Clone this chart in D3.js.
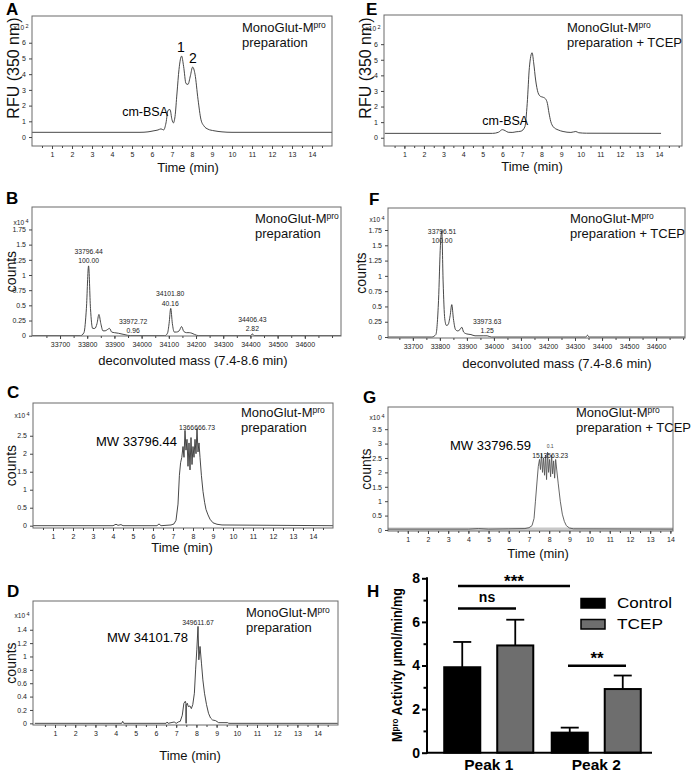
<!DOCTYPE html>
<html>
<head>
<meta charset="utf-8">
<script src="https://cdn.jsdelivr.net/npm/d3@7"></script>
<style>
  body { margin: 0; background: #fff; }
  svg { display: block; font-family: "Liberation Sans", Arial, sans-serif; }
</style>
</head>
<body>
<svg id="fig" width="693" height="772"></svg>
<script>
// ---- A: fluorescence trace, MonoGlut-Mpro preparation (x10^2 RFU)
const aTime = [0, 5.4, 5.8, 6.1, 6.3, 6.45, 6.58, 6.7, 6.8, 6.9, 7.0, 7.07, 7.15, 7.25, 7.35, 7.48, 7.58, 7.7, 7.8, 7.92, 8.03, 8.15, 8.3, 8.45, 8.6, 8.8, 9.1, 9.5, 10, 15];
const aRFU  = [0.3, 0.3, 0.33, 0.4, 0.45, 0.52, 0.45, 0.9, 1.7, 1.75, 1.1, 0.9, 1.3, 2.8, 4.3, 5.15, 4.5, 3.4, 3.35, 3.9, 4.45, 4.0, 2.4, 1.1, 0.7, 0.5, 0.4, 0.33, 0.3, 0.3];

// ---- E: fluorescence trace, + TCEP
const eTime = [0, 5.5, 5.8, 6.0, 6.15, 6.3, 6.5, 6.7, 6.95, 7.15, 7.27, 7.38, 7.52, 7.6, 7.7, 7.82, 7.95, 8.07, 8.2, 8.3, 8.38, 8.47, 8.6, 8.85, 9.1, 9.5, 9.75, 9.9, 10.3, 14.1];
const eRFU  = [0.28, 0.28, 0.35, 0.52, 0.45, 0.35, 0.34, 0.38, 0.42, 0.7, 2.2, 4.5, 5.45, 4.8, 3.7, 2.9, 2.65, 2.6, 2.5, 2.2, 1.6, 1.05, 0.7, 0.5, 0.4, 0.34, 0.4, 0.32, 0.29, 0.28];

// ---- B: deconvoluted spectrum (x10^4 counts)
const bMass   = [33597, 33775, 33788, 33797, 33805, 33812, 33820, 33828, 33836, 33843, 33850, 33858, 33866, 33874, 33882, 33890, 33900, 33915, 33935, 33960, 34085, 34095, 34101, 34107, 34113, 34120, 34128, 34138, 34147, 34155, 34165, 34175, 34185, 34195, 34210, 34398, 34403, 34407, 34411, 34416, 34733];
const bCounts = [0, 0, 0.05, 0.45, 1.15, 0.45, 0.12, 0.12, 0.2, 0.35, 0.2, 0.08, 0.08, 0.1, 0.12, 0.06, 0.05, 0.04, 0.02, 0, 0, 0.04, 0.2, 0.45, 0.2, 0.06, 0.06, 0.08, 0.15, 0.07, 0.05, 0.05, 0.04, 0.02, 0, 0, 0.01, 0.03, 0.01, 0, 0];
const bPeakMass  = [33805, 33969, 34105, 34407];
const bPeakVal   = [1.15, 0, 0.45, 0.03];
const bPeakLabel = ["33796.44", "33972.72", "34101.80", "34406.43"];
const bPeakRel   = ["100.00", "0.96", "40.16", "2.82"];

// ---- F: deconvoluted spectrum, + TCEP
const fMass   = [33608, 33770, 33785, 33795, 33802, 33807, 33812, 33818, 33824, 33830, 33838, 33844, 33850, 33858, 33866, 33874, 33881, 33888, 33900, 33915, 33930, 33960, 33975, 33990, 34340, 34346, 34352, 34707];
const fCounts = [0, 0, 0.04, 0.6, 1.5, 1.74, 0.9, 0.3, 0.19, 0.2, 0.35, 0.53, 0.3, 0.12, 0.1, 0.12, 0.16, 0.08, 0.05, 0.04, 0.02, 0.02, 0.02, 0, 0, 0.03, 0, 0];
const fPeakMass  = [33808, 33975];
const fPeakVal   = [1.74, 0.02];
const fPeakLabel = ["33796.51", "33973.63"];
const fPeakRel   = ["100.00", "1.25"];

// ---- C: extracted ion chromatogram MW 33796.44 (x10^4 counts)
const cTime = [0, 4.0, 4.15, 4.25, 4.4, 4.5, 5.5, 6.2, 6.3, 6.4, 6.9, 7.05, 7.15, 7.25, 7.32, 7.38, 7.44, 7.5, 7.55, 7.6, 7.65, 7.7, 7.75, 7.8, 7.85, 7.9, 7.95, 8.0, 8.05, 8.1, 8.15, 8.2, 8.25, 8.3, 8.35, 8.42, 8.5, 8.58, 8.65, 8.75, 8.85, 9.0, 9.2, 9.45, 15];
const cVal  = [0, 0, 0.04, 0.01, 0.03, 0, 0, 0, 0.05, 0, 0.02, 0.05, 0.15, 0.6, 1.4, 1.75, 1.9, 2.2, 1.9, 2.65, 2.1, 2.4, 1.65, 2.3, 1.55, 2.45, 1.7, 2.2, 1.9, 2.4, 2.0, 2.7, 2.05, 2.3, 1.9, 1.4, 0.95, 0.65, 0.45, 0.3, 0.18, 0.08, 0.04, 0.02, 0];

// ---- D: extracted ion chromatogram MW 34101.78
const dTime = [0, 4.3, 4.35, 4.4, 6.5, 6.55, 6.6, 6.9, 7.0, 7.1, 7.2, 7.3, 7.38, 7.45, 7.48, 7.49, 7.5, 7.55, 7.6, 7.68, 7.75, 7.82, 7.9, 7.96, 8.02, 8.08, 8.12, 8.18, 8.25, 8.32, 8.4, 8.5, 8.6, 8.7, 8.8, 8.95, 9.1, 9.55, 9.6, 15];
const dVal  = [0, 0, 0.03, 0, 0, 0.02, 0, 0.02, 0, 0.02, 0.03, 0.12, 0.3, 0.33, 0.3, 0, 0.27, 0.3, 0.25, 0.26, 0.22, 0.28, 0.45, 0.8, 1.1, 1.45, 0.95, 1.15, 0.9, 0.65, 0.45, 0.28, 0.15, 0.08, 0.05, 0.04, 0.01, 0.01, 0, 0];

// ---- G: extracted ion chromatogram MW 33796.59, + TCEP
const gTime = [0, 4, 4.5, 5, 6, 6.8, 7.0, 7.15, 7.25, 7.32, 7.4, 7.46, 7.52, 7.57, 7.62, 7.67, 7.72, 7.77, 7.82, 7.87, 7.92, 7.97, 8.02, 8.07, 8.12, 8.17, 8.22, 8.27, 8.32, 8.38, 8.45, 8.55, 8.65, 8.75, 8.85, 9.0, 9.2, 14.13];
const gVal  = [0.03, 0.03, 0.05, 0.03, 0.04, 0.05, 0.08, 0.15, 0.4, 1.0, 1.7, 2.2, 2.45, 2.1, 2.65, 2.0, 2.5, 1.9, 2.6, 1.75, 2.7, 2.0, 2.45, 1.85, 2.6, 1.95, 2.4, 1.8, 2.45, 2.05, 1.6, 1.0, 0.55, 0.3, 0.15, 0.07, 0.04, 0.03];

// ---- H: Mpro activity bars (µmol/min/mg)
const hPeaks = ["Peak 1", "Peak 2"];
const hSeries = ["Control", "TCEP"];
const hControlMean = [3.92, 0.92];
const hControlSD   = [1.16, 0.23];
const hTcepMean    = [4.92, 2.92];
const hTcepSD      = [1.18, 0.62];
const hTicks = [0, 2, 4, 6, 8];

const timeTicks = d3.range(1, 15);
const massTicks = d3.range(33700, 34700, 100);

const svg = d3.select('#fig');
const zip = (a, b) => a.map((v, i) => [v, b[i]]);

// frame + axes for one chromatogram / spectrum panel
function tracePanel(o) {
  const x = d3.scaleLinear().domain(o.xDomain).range([o.l, o.r]);
  const y = d3.scaleLinear().domain(o.yDomain).range([o.b, o.t]);
  const g = svg.append('g');

  const clipId = 'clip' + o.id;
  svg.append('clipPath').attr('id', clipId)
    .append('rect').attr('x', o.l).attr('y', o.t).attr('width', o.r - o.l).attr('height', o.b - o.t);

  if (o.band) {
    g.append('line').attr('x1', o.l).attr('x2', o.r).attr('y1', y(0) - 1).attr('y2', y(0) - 1)
      .attr('stroke', '#c8c8c8').attr('stroke-width', 3);
  }

  g.append('path')
    .attr('clip-path', `url(#${clipId})`)
    .attr('d', d3.line().x(d => x(d[0])).y(d => y(d[1])).curve(o.curve)(o.data))
    .attr('fill', 'none').attr('stroke', o.stroke || '#333').attr('stroke-width', 0.9);

  g.append('rect').attr('x', o.l).attr('y', o.t).attr('width', o.r - o.l).attr('height', o.b - o.t)
    .attr('fill', 'none').attr('stroke', '#6a6a6a').attr('stroke-width', 1);

  g.append('g').attr('transform', `translate(0,${o.b})`)
    .call(d3.axisBottom(x).tickValues(o.xTicks).tickSize(3).tickPadding(3).tickFormat(d3.format('d')));
  g.append('g').attr('transform', `translate(0,${o.b})`)
    .call(d3.axisBottom(x).tickValues(o.xMinor).tickSize(2).tickFormat(''));
  g.append('g').attr('transform', `translate(${o.l},0)`)
    .call(d3.axisLeft(y).tickValues(o.yTicks).tickSize(3).tickPadding(3).tickFormat(d => d));
  g.selectAll('.domain').remove();
  g.selectAll('.tick line').attr('stroke', '#444');
  g.selectAll('.tick text').attr('font-size', 7).attr('fill', '#222')
    .attr('font-family', '"Liberation Sans", Arial, sans-serif');

  // multiplier label at top of y axis
  g.append('text').attr('x', o.l - 8).attr('y', y(o.expAt) + 2.5)
    .attr('text-anchor', 'end').attr('font-size', 6.5).attr('fill', '#222').text('x10');
  g.append('text').attr('x', o.l - 6.5).attr('y', y(o.expAt) + 0.5)
    .attr('font-size', 5.5).attr('fill', '#222').text(o.exp);

  // axis titles
  const yMid = o.yLabelY || (o.t + o.b) / 2;
  g.append('text').attr('transform', `translate(${o.yLabelX},${yMid}) rotate(-90)`)
    .attr('text-anchor', 'middle').attr('font-size', o.yLabelSize).attr('fill', '#111').text(o.yLabel);
  g.append('text').attr('x', o.xLabelX).attr('y', o.xLabelY)
    .attr('text-anchor', 'middle').attr('font-size', 13).attr('fill', '#111').text(o.xLabel);

  // panel letter
  g.append('text').attr('x', o.letterX).attr('y', o.letterY)
    .attr('font-size', 17).attr('font-weight', 'bold').attr('fill', '#000').text(o.letter);

  // sample description
  const t1 = g.append('text').attr('x', o.descX).attr('y', o.descY)
    .attr('font-size', 13).attr('fill', '#111');
  t1.append('tspan').text('MonoGlut-M');
  t1.append('tspan').attr('font-size', 8.5).attr('dy', -4).text('pro');
  g.append('text').attr('x', o.descX).attr('y', o.descY + 15)
    .attr('font-size', 13).attr('fill', '#111').text(o.desc2);

  return { x, y, g };
}

// ---------- A
const A = tracePanel({
  id: 'A', l: 32, t: 16, r: 332, b: 146, xDomain: [0, 15], yDomain: [-0.57, 7.7],
  data: zip(aTime, aRFU), curve: d3.curveMonotoneX,
  xTicks: timeTicks, xMinor: d3.range(0.5, 15, 0.5), yTicks: d3.range(0, 7), expAt: 7, exp: '2',
  yLabel: 'RFU (350 nm)', yLabelX: 19, yLabelY: 68, yLabelSize: 16,
  xLabel: 'Time (min)', xLabelX: 188, xLabelY: 172,
  letter: 'A', letterX: 6, letterY: 15, descX: 242, descY: 32, desc2: 'preparation'
});
A.g.append('text').attr('x', A.x(7.45)).attr('y', A.y(5.15) - 4).attr('text-anchor', 'middle')
  .attr('font-size', 14).text('1');
A.g.append('text').attr('x', A.x(8.05)).attr('y', A.y(4.45) - 4).attr('text-anchor', 'middle')
  .attr('font-size', 14).text('2');
A.g.append('text').attr('x', A.x(6.8)).attr('y', A.y(1.8) + 7).attr('text-anchor', 'end')
  .attr('font-size', 12.5).text('cm-BSA');

// ---------- E
const E = tracePanel({
  id: 'E', l: 384, t: 15, r: 682, b: 146, xDomain: [-0.04, 15.17], yDomain: [-0.53, 7.87],
  data: zip(eTime, eRFU), curve: d3.curveMonotoneX,
  xTicks: timeTicks, xMinor: d3.range(0.5, 15.1, 0.5), yTicks: d3.range(0, 7), expAt: 7, exp: '2',
  yLabel: 'RFU (350 nm)', yLabelX: 371, yLabelY: 68, yLabelSize: 16,
  xLabel: 'Time (min)', xLabelX: 532, xLabelY: 171,
  letter: 'E', letterX: 366, letterY: 15, descX: 567, descY: 32, desc2: 'preparation + TCEP'
});
E.g.append('text').attr('x', E.x(6.0) - 20).attr('y', E.y(0.55) - 4)
  .attr('font-size', 12.5).text('cm-BSA');

// spectrum peak annotations
function peakLabels(P, masses, vals, labels, rels, top) {
  masses.forEach((m, i) => {
    const yb = Math.max(P.y(vals[i]) - 2.5, top + 35);
    P.g.append('text').attr('x', P.x(m)).attr('y', yb).attr('text-anchor', 'middle')
      .attr('font-size', 6.8).attr('fill', '#222').text(rels[i]);
    P.g.append('text').attr('x', P.x(m)).attr('y', yb - 9.5).attr('text-anchor', 'middle')
      .attr('font-size', 6.8).attr('fill', '#222').text(labels[i]);
  });
}

// ---------- B
const B = tracePanel({
  id: 'B', l: 32, t: 207, r: 341, b: 336, xDomain: [33597, 34733], yDomain: [-0.005, 2.12],
  data: zip(bMass, bCounts), curve: d3.curveMonotoneX,
  xTicks: massTicks, xMinor: d3.range(33650, 34733, 50), yTicks: d3.range(0, 1.8, 0.25), expAt: 1.87, exp: '4',
  yLabel: 'counts', yLabelX: 16, yLabelSize: 14,
  xLabel: 'deconvoluted mass (7.4-8.6 min)', xLabelX: 193, xLabelY: 365,
  letter: 'B', letterX: 6, letterY: 204, descX: 255, descY: 223, desc2: 'preparation'
});
peakLabels(B, bPeakMass, bPeakVal, bPeakLabel, bPeakRel, 207);

// ---------- F
const F = tracePanel({
  id: 'F', l: 388, t: 208, r: 685, b: 338, xDomain: [33608, 34707], yDomain: [-0.016, 2.11],
  data: zip(fMass, fCounts), curve: d3.curveMonotoneX,
  xTicks: massTicks, xMinor: d3.range(33650, 34707, 50), yTicks: d3.range(0, 1.8, 0.25), expAt: 1.93, exp: '4',
  yLabel: 'counts', yLabelX: 366, yLabelSize: 14,
  xLabel: 'deconvoluted mass (7.4-8.6 min)', xLabelX: 557, xLabelY: 368,
  letter: 'F', letterX: 369, letterY: 205, descX: 570, descY: 223, desc2: 'preparation + TCEP'
});
peakLabels(F, fPeakMass, fPeakVal, fPeakLabel, fPeakRel, 208);

// ---------- C
const C = tracePanel({
  id: 'C', l: 33, t: 403, r: 333, b: 528, xDomain: [0, 15], yDomain: [-0.064, 3.41],
  data: zip(cTime, cVal), curve: d3.curveLinear,
  xTicks: timeTicks, xMinor: d3.range(0.5, 15, 0.5), yTicks: d3.range(0, 2.6, 0.5), expAt: 3.07, exp: '4',
  yLabel: 'counts', yLabelX: 16, yLabelSize: 14,
  xLabel: 'Time (min)', xLabelX: 182, xLabelY: 552,
  letter: 'C', letterX: 7, letterY: 398, descX: 241, descY: 417, desc2: 'preparation'
});
C.g.append('text').attr('x', C.x(8.2)).attr('y', C.y(2.7) + 1).attr('text-anchor', 'middle')
  .attr('font-size', 6.8).attr('fill', '#222').text('1366666.73');
C.g.append('text').attr('x', 96).attr('y', 446).attr('font-size', 13).text('MW 33796.44');

// ---------- D
const D = tracePanel({
  id: 'D', l: 33, t: 601, r: 338, b: 725, xDomain: [-0.09, 15.01], yDomain: [-0.025, 1.83],
  data: zip(dTime, dVal), curve: d3.curveLinear,
  xTicks: timeTicks, xMinor: d3.range(0.5, 15, 0.5), yTicks: d3.range(0, 1.5, 0.2).map(v => +v.toFixed(1)), expAt: 1.62, exp: '4',
  yLabel: 'counts', yLabelX: 16, yLabelSize: 14,
  xLabel: 'Time (min)', xLabelX: 190, xLabelY: 760,
  letter: 'D', letterX: 7, letterY: 597, descX: 246, descY: 617, desc2: 'preparation'
});
D.g.append('text').attr('x', D.x(8.08)).attr('y', D.y(1.45) - 1).attr('text-anchor', 'middle')
  .attr('font-size', 6.8).attr('fill', '#222').text('349611.67');
D.g.append('text').attr('x', 107).attr('y', 642).attr('font-size', 13).text('MW 34101.78');

// ---------- G
const G = tracePanel({
  id: 'G', l: 388, t: 407, r: 673, b: 531, xDomain: [0.02, 14.13], yDomain: [-0.035, 4.27],
  data: zip(gTime, gVal), curve: d3.curveLinear, stroke: '#555', band: true,
  xTicks: timeTicks, xMinor: d3.range(0.5, 14.1, 0.5), yTicks: d3.range(0, 3.6, 0.5), expAt: 3.9, exp: '4',
  yLabel: 'counts', yLabelX: 371, yLabelSize: 14,
  xLabel: 'Time (min)', xLabelX: 538, xLabelY: 558,
  letter: 'G', letterX: 363, letterY: 403, descX: 576, descY: 417, desc2: 'preparation + TCEP'
});
G.g.append('text').attr('x', G.x(8.05)).attr('y', G.y(2.7) - 4).attr('text-anchor', 'middle')
  .attr('font-size', 5).attr('fill', '#444').text('0.1');
G.g.append('text').attr('x', G.x(8.05)).attr('y', G.y(2.7) + 6).attr('text-anchor', 'middle')
  .attr('font-size', 6.8).attr('fill', '#222').text('1513563.23');
G.g.append('text').attr('x', 450).attr('y', 450).attr('font-size', 13).text('MW 33796.59');

// ---------- H: bar chart
const hL = 427, hR = 652, hB = 752.7, hT = 578.3;
const yH = d3.scaleLinear().domain([0, 8]).range([hB, hT]);
const xH = d3.scaleBand().domain(hPeaks).range([435, 650]);
const xS = d3.scaleBand().domain(hSeries).range([0, xH.bandwidth()]).paddingInner(0.32).paddingOuter(0.174);
const hFill = { Control: '#000', TCEP: '#6e6e6e' };
const hg = svg.append('g');

const bars = [];
hPeaks.forEach((p, i) => {
  bars.push({ peak: p, series: 'Control', mean: hControlMean[i], sd: hControlSD[i] });
  bars.push({ peak: p, series: 'TCEP', mean: hTcepMean[i], sd: hTcepSD[i] });
});

// error bars (upper only)
bars.forEach(d => {
  const cx = xH(d.peak) + xS(d.series) + xS.bandwidth() / 2;
  hg.append('line').attr('x1', cx).attr('x2', cx).attr('y1', yH(d.mean)).attr('y2', yH(d.mean + d.sd))
    .attr('stroke', '#000').attr('stroke-width', 1.8);
  hg.append('line').attr('x1', cx - 9).attr('x2', cx + 9).attr('y1', yH(d.mean + d.sd)).attr('y2', yH(d.mean + d.sd))
    .attr('stroke', '#000').attr('stroke-width', 1.8);
});
hg.selectAll('rect.bar').data(bars).enter().append('rect')
  .attr('x', d => xH(d.peak) + xS(d.series))
  .attr('y', d => yH(d.mean))
  .attr('width', xS.bandwidth())
  .attr('height', d => hB - yH(d.mean))
  .attr('fill', d => hFill[d.series]).attr('stroke', '#000').attr('stroke-width', 2);

// axes
hg.append('g').attr('transform', `translate(${hL},0)`)
  .call(d3.axisLeft(yH).tickValues(hTicks).tickSize(5).tickPadding(2))
  .call(a => a.select('.domain').remove())
  .call(a => a.selectAll('text').attr('font-size', 14).attr('font-weight', 'bold').attr('fill', '#000')
    .attr('font-family', '"Liberation Sans", Arial, sans-serif'))
  .call(a => a.selectAll('line').attr('stroke-width', 2));
hg.append('g').attr('transform', `translate(${hL},0)`)
  .call(d3.axisLeft(yH).tickValues([1, 3, 5, 7]).tickSize(3.5).tickFormat(''))
  .call(a => a.select('.domain').remove())
  .call(a => a.selectAll('line').attr('stroke-width', 2));
hg.append('line').attr('x1', hL).attr('x2', hL).attr('y1', hT - 1).attr('y2', hB + 1)
  .attr('stroke', '#000').attr('stroke-width', 2);
hg.append('line').attr('x1', hL - 1).attr('x2', hR).attr('y1', hB).attr('y2', hB)
  .attr('stroke', '#000').attr('stroke-width', 2);

hPeaks.forEach(p => {
  hg.append('text').attr('x', xH(p) + xH.bandwidth() / 2).attr('y', 770).attr('text-anchor', 'middle')
    .attr('font-size', 14).attr('font-weight', 'bold').attr('textLength', 49).attr('lengthAdjust', 'spacingAndGlyphs')
    .text(p);
});

// y title
const yt = hg.append('text').attr('transform', `translate(402,665) rotate(-90)`)
  .attr('text-anchor', 'middle').attr('font-size', 14).attr('font-weight', 'bold')
  .attr('textLength', 154).attr('lengthAdjust', 'spacingAndGlyphs');
yt.append('tspan').text('M');
yt.append('tspan').attr('font-size', 9).attr('dy', -4).text('pro');
yt.append('tspan').attr('dy', 4).text(' Activity ');
yt.append('tspan').text('\u03bcmol/min/mg');

// significance brackets
function sig(x1, x2, yy, label, ty, size) {
  hg.append('line').attr('x1', x1).attr('x2', x2).attr('y1', yy).attr('y2', yy)
    .attr('stroke', '#000').attr('stroke-width', 2.5);
  hg.append('text').attr('x', (x1 + x2) / 2).attr('y', ty).attr('text-anchor', 'middle')
    .attr('font-size', size).attr('font-weight', 'bold').text(label);
}
sig(458, 570, 586, '***', 587, 17);
sig(458, 516, 608.5, 'ns', 602, 14);
sig(568, 626, 665.7, '**', 664, 17);

// legend
hSeries.forEach((s, i) => {
  const ly = 598.5 + i * 21;
  hg.append('rect').attr('x', 581).attr('y', ly).attr('width', 24).attr('height', 9.5)
    .attr('fill', hFill[s]).attr('stroke', '#000').attr('stroke-width', 1.5);
  hg.append('text').attr('x', 617).attr('y', ly + 9.5).attr('font-size', 14)
    .attr('textLength', s === 'Control' ? 55 : 46).attr('lengthAdjust', 'spacingAndGlyphs').text(s);
});
hg.append('text').attr('x', 367).attr('y', 597).attr('font-size', 17).attr('font-weight', 'bold').text('H');
</script>
</body>
</html>
